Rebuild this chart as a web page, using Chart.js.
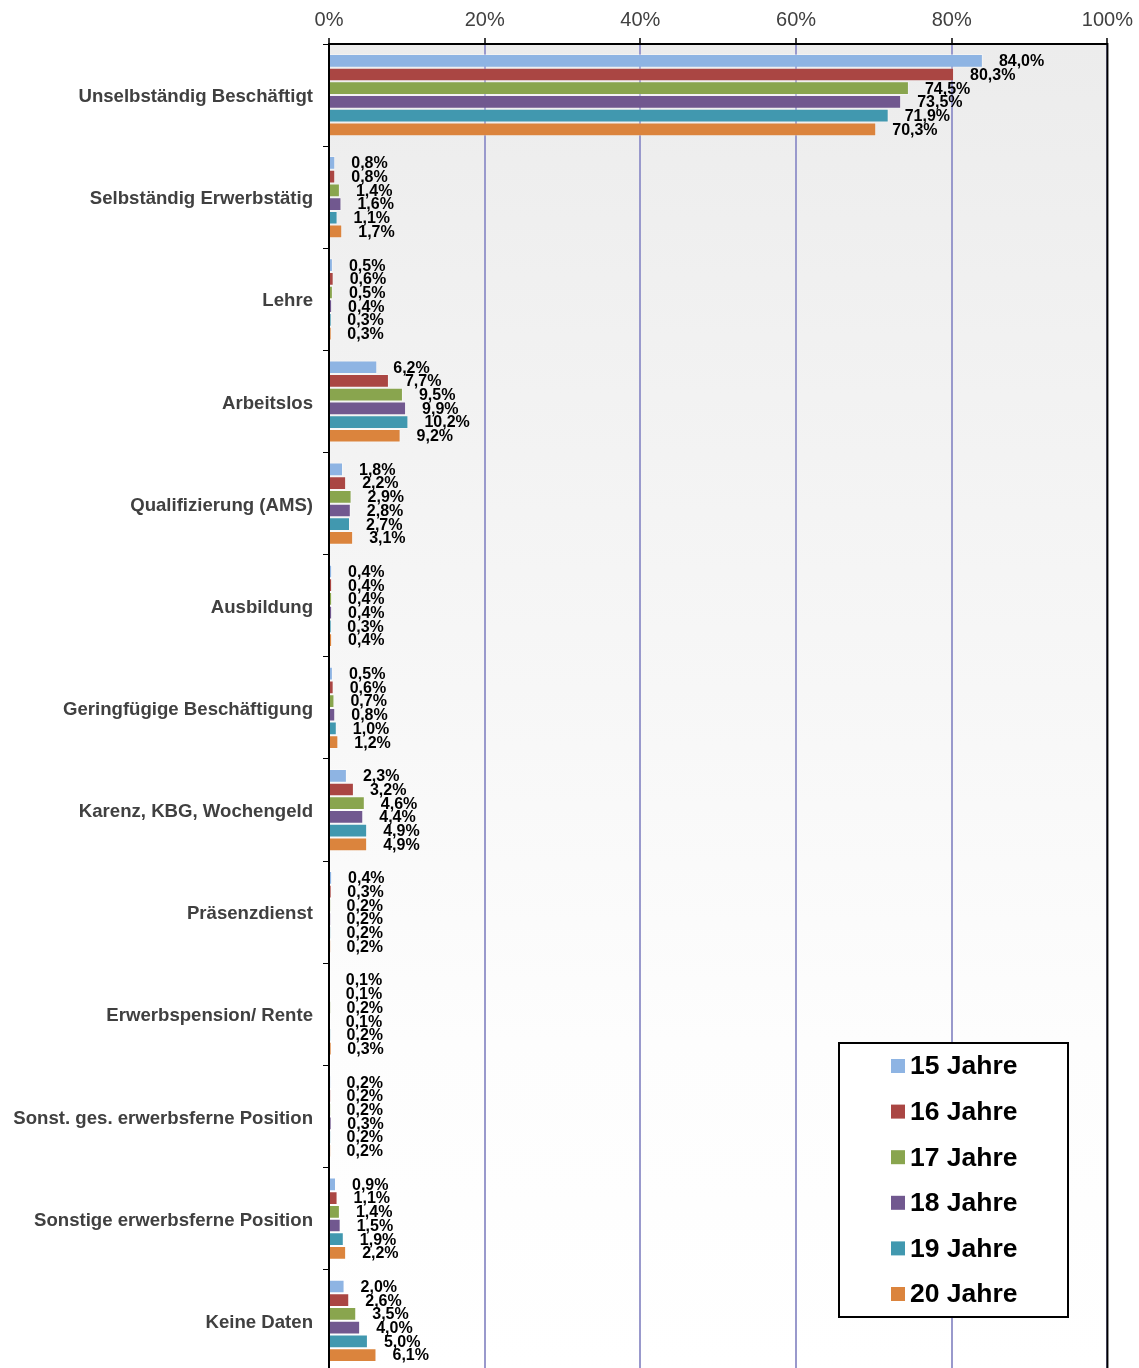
<!DOCTYPE html>
<html>
<head>
<meta charset="utf-8">
<script src="https://cdn.jsdelivr.net/npm/chart.js@4.4.1/dist/chart.umd.min.js"></script>
<style>
  html, body { margin: 0; padding: 0; background: #fff; overflow: hidden; width: 1139px; height: 1368px; }
  canvas { display: block; }
</style>
</head>
<body>
<canvas id="mycanvas" width="1139" height="1393"></canvas>
<script>
var categories = [
  'Unselbständig Beschäftigt',
  'Selbständig Erwerbstätig',
  'Lehre',
  'Arbeitslos',
  'Qualifizierung (AMS)',
  'Ausbildung',
  'Geringfügige Beschäftigung',
  'Karenz, KBG, Wochengeld',
  'Präsenzdienst',
  'Erwerbspension/ Rente',
  'Sonst. ges. erwerbsferne Position',
  'Sonstige erwerbsferne Position',
  'Keine Daten'
];
var seriesNames = ['15 Jahre', '16 Jahre', '17 Jahre', '18 Jahre', '19 Jahre', '20 Jahre'];
var jahre15 = [84.0, 0.8, 0.5, 6.2, 1.8, 0.4, 0.5, 2.3, 0.4, 0.1, 0.2, 0.9, 2.0];
var jahre16 = [80.3, 0.8, 0.6, 7.7, 2.2, 0.4, 0.6, 3.2, 0.3, 0.1, 0.2, 1.1, 2.6];
var jahre17 = [74.5, 1.4, 0.5, 9.5, 2.9, 0.4, 0.7, 4.6, 0.2, 0.2, 0.2, 1.4, 3.5];
var jahre18 = [73.5, 1.6, 0.4, 9.9, 2.8, 0.4, 0.8, 4.4, 0.2, 0.1, 0.3, 1.5, 4.0];
var jahre19 = [71.9, 1.1, 0.3, 10.2, 2.7, 0.3, 1.0, 4.9, 0.2, 0.2, 0.2, 1.9, 5.0];
var jahre20 = [70.3, 1.7, 0.3, 9.2, 3.1, 0.4, 1.2, 4.9, 0.2, 0.3, 0.2, 2.2, 6.1];
var xTicks = [0, 20, 40, 60, 80, 100];

var colors = ['#8EB4E3', '#AA4643', '#89A54E', '#71588F', '#4198AF', '#DB843D'];
var allSeries = [jahre15, jahre16, jahre17, jahre18, jahre19, jahre20];

var datasets = [];
for (var i = 0; i < allSeries.length; i++) {
  datasets.push({
    label: seriesNames[i],
    data: allSeries[i],
    backgroundColor: colors[i],
    borderColor: 'rgba(255,255,255,0.35)',
    borderWidth: 1,
    categoryPercentage: 0.805,
    barPercentage: 1.0
  });
}

// gradient background for the plot area
var bgPlugin = {
  id: 'bg',
  beforeDraw: function(chart) {
    var a = chart.chartArea, c = chart.ctx;
    var g = c.createLinearGradient(0, a.top, 0, a.bottom);
    g.addColorStop(0, '#ECECEC');
    g.addColorStop(0.75, '#FDFDFD');
    g.addColorStop(1, '#FFFFFF');
    c.save();
    c.fillStyle = g;
    c.fillRect(a.left, a.top, a.right - a.left, a.bottom - a.top);
    c.restore();
  },
  afterDraw: function(chart) {
    var a = chart.chartArea, c = chart.ctx;
    c.save();
    c.strokeStyle = '#000';
    c.lineWidth = 2;
    c.strokeRect(a.left, a.top, a.right - a.left, a.bottom - a.top);
    c.restore();
  }
};

// value labels right of every bar
var valuePlugin = {
  id: 'values',
  afterDatasetsDraw: function(chart) {
    var c = chart.ctx;
    c.save();
    c.font = 'bold 16px "Liberation Sans", Arial, sans-serif';
    c.fillStyle = '#000';
    c.textAlign = 'left';
    c.textBaseline = 'middle';
    chart.data.datasets.forEach(function(ds, di) {
      var meta = chart.getDatasetMeta(di);
      meta.data.forEach(function(bar, j) {
        var txt = ds.data[j].toFixed(1).replace('.', ',') + '%';
        c.fillText(txt, bar.x + 16, bar.y + 1);
      });
    });
    c.restore();
  }
};

// boxed legend in the lower right of the plot
var legendPlugin = {
  id: 'boxLegend',
  afterDraw: function(chart) {
    var c = chart.ctx;
    var bx = 839, by = 1043, bw = 229, bh = 274;
    c.save();
    c.fillStyle = '#fff';
    c.fillRect(bx, by, bw, bh);
    c.strokeStyle = '#000';
    c.lineWidth = 2;
    c.strokeRect(bx, by, bw, bh);
    c.font = 'bold 26.5px "Liberation Sans", Arial, sans-serif';
    c.textAlign = 'left';
    c.textBaseline = 'middle';
    chart.data.datasets.forEach(function(ds, i) {
      var y = by + 23 + i * 45.6;
      c.fillStyle = ds.backgroundColor;
      c.fillRect(bx + 52, y - 7, 14, 14);
      c.fillStyle = '#000';
      c.fillText(ds.label, bx + 71, y + 1);
    });
    c.restore();
  }
};

var ctx = document.getElementById('mycanvas');

var Graph = new Chart(ctx, {
  type: 'bar',
  data: { labels: categories, datasets: datasets },
  plugins: [bgPlugin, valuePlugin, legendPlugin],
  options: {
    indexAxis: 'y',
    responsive: false,
    animation: false,
    layout: { padding: { top: 0, right: 31, bottom: 0, left: 0 } },
    plugins: {
      legend: { display: false },
      tooltip: { enabled: false }
    },
    scales: {
      x: {
        position: 'top',
        min: 0,
        max: 100,
        afterBuildTicks: function(scale) {
          scale.ticks = xTicks.map(function(v) { return { value: v }; });
        },
        afterFit: function(scale) { scale.height = 44; },
        ticks: {
          color: '#404040',
          padding: 6,
          font: { family: '"Liberation Sans", Arial, sans-serif', size: 20 },
          callback: function(v) { return v + '%'; }
        },
        grid: {
          color: '#9999CC',
          lineWidth: 2,
          tickLength: 6,
          tickColor: '#404040'
        },
        border: { display: false }
      },
      y: {
        afterFit: function(scale) { scale.width = 329; },
        ticks: {
          color: '#404040',
          padding: 10,
          labelOffset: 2,
          font: { family: '"Liberation Sans", Arial, sans-serif', size: 18.6, weight: 'bold' }
        },
        grid: {
          offset: true,
          drawOnChartArea: false,
          tickLength: 6,
          tickColor: '#000',
          lineWidth: 1
        },
        border: { display: false }
      }
    }
  }
});
</script>
</body>
</html>
